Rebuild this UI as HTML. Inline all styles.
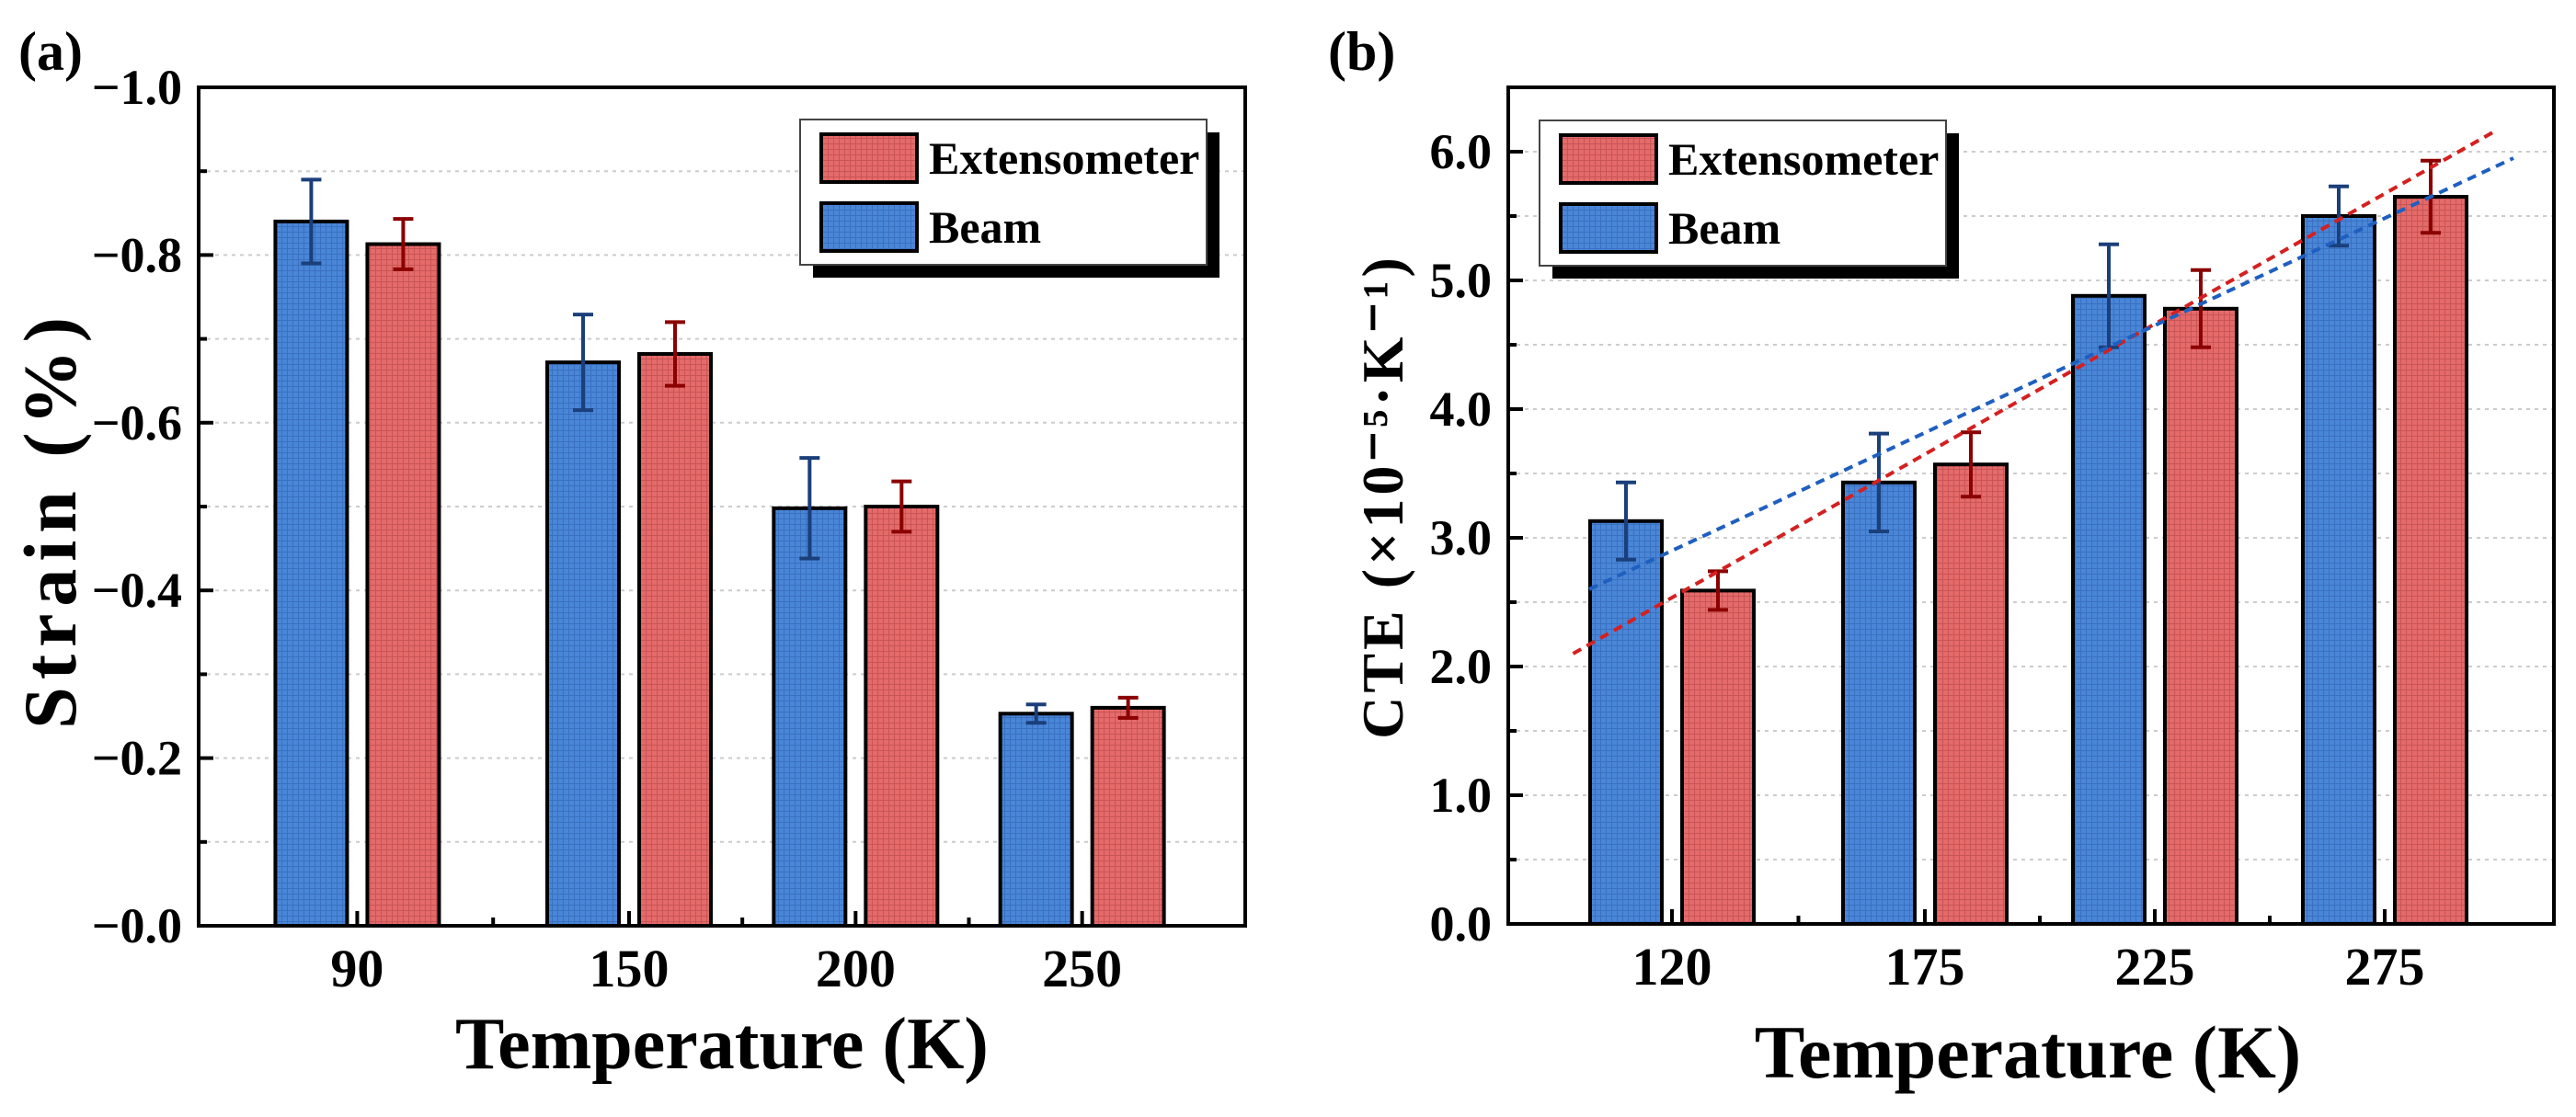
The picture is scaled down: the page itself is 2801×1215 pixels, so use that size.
<!DOCTYPE html>
<html><head><meta charset="utf-8"><style>
body{margin:0;background:#fff}
svg{display:block;font-family:"Liberation Serif",serif;font-weight:bold}
</style></head><body>
<svg id="c" width="2801" height="1215" viewBox="0 0 2801 1215" xmlns="http://www.w3.org/2000/svg">
<defs>
<pattern id="pb" width="6" height="6" patternUnits="userSpaceOnUse"><rect width="6" height="6" fill="#4a86d8"/><path d="M0 0.5H6M0.5 0V6" stroke="#3a70c0" stroke-width="1"/></pattern>
<pattern id="pr" width="6" height="6" patternUnits="userSpaceOnUse"><rect width="6" height="6" fill="#e56a6a"/><path d="M0 0.5H6M0.5 0V6" stroke="#c85555" stroke-width="1"/></pattern>
</defs>
<g id="ga"></g>
<g id="gb"></g>
</svg>
<script>
// Panel (a) data
const tempsA = [90, 150, 200, 250];
const beamA = [0.84, 0.672, 0.498, 0.253];
const beamErrA = [0.05, 0.057, 0.06, 0.011];
const extA = [0.813, 0.682, 0.50, 0.26];
const extErrA = [0.03, 0.038, 0.03, 0.012];
const yTicksA = ["−0.0","−0.2","−0.4","−0.6","−0.8","−1.0"];
// Panel (b) data
const tempsB = [120, 175, 225, 275];
const beamB = [3.13, 3.43, 4.88, 5.5];
const beamErrB = [0.3, 0.38, 0.4, 0.23];
const extB = [2.59, 3.57, 4.78, 5.65];
const extErrB = [0.15, 0.25, 0.3, 0.28];
const yTicksB = ["0.0","1.0","2.0","3.0","4.0","5.0","6.0"];
const fitExtT = [98.5, 298.5];
const fitExtV = [2.1, 6.15];
const fitBeamT = [102, 303];
const fitBeamV = [2.6, 5.95];

const NS="http://www.w3.org/2000/svg";
function mk(p,tag,at){const e=document.createElementNS(NS,tag);for(const k in at)e.setAttribute(k,at[k]);p.appendChild(e);return e;}

function panel(g,cfg){
  const {L,R,T,B,xmin,xmax,ymin,ymax,temps,beam,beamErr,ext,extErr,ticks,tickStep,minorStep}=cfg;
  const X=t=>L+(t-xmin)/(xmax-xmin)*(R-L);
  const Y=v=>B-(v-ymin)/(ymax-ymin)*(B-T);
  for(let v=ymin+minorStep;v<ymax-1e-9;v+=minorStep){
    const gl=mk(g,'line',{x1:L,x2:R,y1:Y(v),y2:Y(v),stroke:'#ccc','stroke-width':2,'stroke-dasharray':'4 5'});
    
    const tk=mk(g,'line',{x1:L,x2:L+(Math.abs((v/tickStep)-Math.round(v/tickStep))<1e-6?16:9),y1:Y(v),y2:Y(v),stroke:'#000','stroke-width':4});
    
  }
  const bw=78;
  temps.forEach((t,i)=>{
    [[beam[i],beamErr[i],-50,'url(#pb)','#1a3f7a','beam'],[ext[i],extErr[i],50,'url(#pr)','#8b0000','extensometer']].forEach(([v,e,off,fill,ec,nm])=>{
      const cx=X(t)+off;
      const r=mk(g,'rect',{x:cx-bw/2,y:Y(v),width:bw,height:B-Y(v),fill:fill,stroke:'#000','stroke-width':4});
      
      const eb=mk(g,'path',{d:`M${cx} ${Y(v-e)}V${Y(v+e)}M${cx-11} ${Y(v+e)}H${cx+11}M${cx-11} ${Y(v-e)}H${cx+11}`,stroke:ec,'stroke-width':4,fill:'none'});
      
    });
    const xt=mk(g,'line',{x1:X(t),x2:X(t),y1:B,y2:B-16,stroke:'#000','stroke-width':4});
    
    const lb=mk(g,'text',{x:X(t),y:B+66,'font-size':58,'text-anchor':'middle'});lb.textContent=t;
    
    if(i<temps.length-1){const m=(t+temps[i+1])/2;
      const mt=mk(g,'line',{x1:X(m),x2:X(m),y1:B,y2:B-9,stroke:'#000','stroke-width':4});
      }
  });
  ticks.forEach((s,i)=>{
    const v=ymin+i*tickStep;
    const tl=mk(g,'text',{x:L-18,y:Y(v)+18,'font-size':54,'text-anchor':'end'});tl.textContent=s;
    
  });
  const fr=mk(g,'rect',{x:L,y:T,width:R-L,height:B-T,fill:'none',stroke:'#000','stroke-width':4});
  
  return {X,Y};
}

const ga=document.getElementById('ga'), gb=document.getElementById('gb');
panel(ga,{L:216,R:1354,T:95,B:1007,xmin:55,xmax:286,ymin:0,ymax:1,temps:tempsA,beam:beamA,beamErr:beamErrA,ext:extA,extErr:extErrA,ticks:yTicksA,tickStep:0.2,minorStep:0.1});
const sb=panel(gb,{L:1640,R:2777,T:95,B:1005,xmin:84.4,xmax:311.8,ymin:0,ymax:6.5,temps:tempsB,beam:beamB,beamErr:beamErrB,ext:extB,extErr:extErrB,ticks:yTicksB,tickStep:1,minorStep:0.5});
const fe=mk(gb,'line',{x1:sb.X(fitExtT[0]),y1:sb.Y(fitExtV[0]),x2:sb.X(fitExtT[1]),y2:sb.Y(fitExtV[1]),stroke:'#d42020','stroke-width':4,'stroke-dasharray':'10 7'});

const fbl=mk(gb,'line',{x1:sb.X(fitBeamT[0]),y1:sb.Y(fitBeamV[0]),x2:sb.X(fitBeamT[1]),y2:sb.Y(fitBeamV[1]),stroke:'#1f5fbf','stroke-width':4,'stroke-dasharray':'10 7'});


function legend(g,x,y){
  const lg=mk(g,'g',{});
  
  mk(lg,'rect',{x:x+14,y:y+14,width:442,height:158,fill:'#000'});
  mk(lg,'rect',{x:x,y:y,width:442,height:158,fill:'#fff',stroke:'#444','stroke-width':2});
  [['url(#pr)','Extensometer',16],['url(#pb)','Beam',91]].forEach(([f,t,dy])=>{
    const s=mk(lg,'rect',{x:x+23,y:y+dy,width:104,height:52,fill:f,stroke:'#000','stroke-width':4});
    
    const tx=mk(lg,'text',{x:x+140,y:y+dy+43,'font-size':50});tx.textContent=t;
    
  });
}
legend(ga,870,130);
legend(gb,1674,131);

function txt(p,at,s,name){const t=mk(p,'text',at);t.textContent=s;return t;}
txt(ga,{x:20,y:76,'font-size':60},'(a)','panel-label-a');
txt(gb,{x:1444,y:76,'font-size':60},'(b)','panel-label-b');
txt(ga,{x:785,y:1162,'font-size':80,'text-anchor':'middle'},'Temperature (K)','x-axis-title-a');
txt(gb,{x:2205,y:1172,'font-size':82,'text-anchor':'middle'},'Temperature (K)','x-axis-title-b');
txt(ga,{x:0,y:0,'font-size':82,'letter-spacing':8,'text-anchor':'middle',transform:'translate(82,565) rotate(-90)'},'Strain (%)','y-axis-title-a');
txt(gb,{x:0,y:0,'font-size':64,'letter-spacing':4,'text-anchor':'middle',transform:'translate(1525,540) rotate(-90)'},'CTE (×10⁻⁵·K⁻¹)','y-axis-title-b');
</script>
</body></html>
